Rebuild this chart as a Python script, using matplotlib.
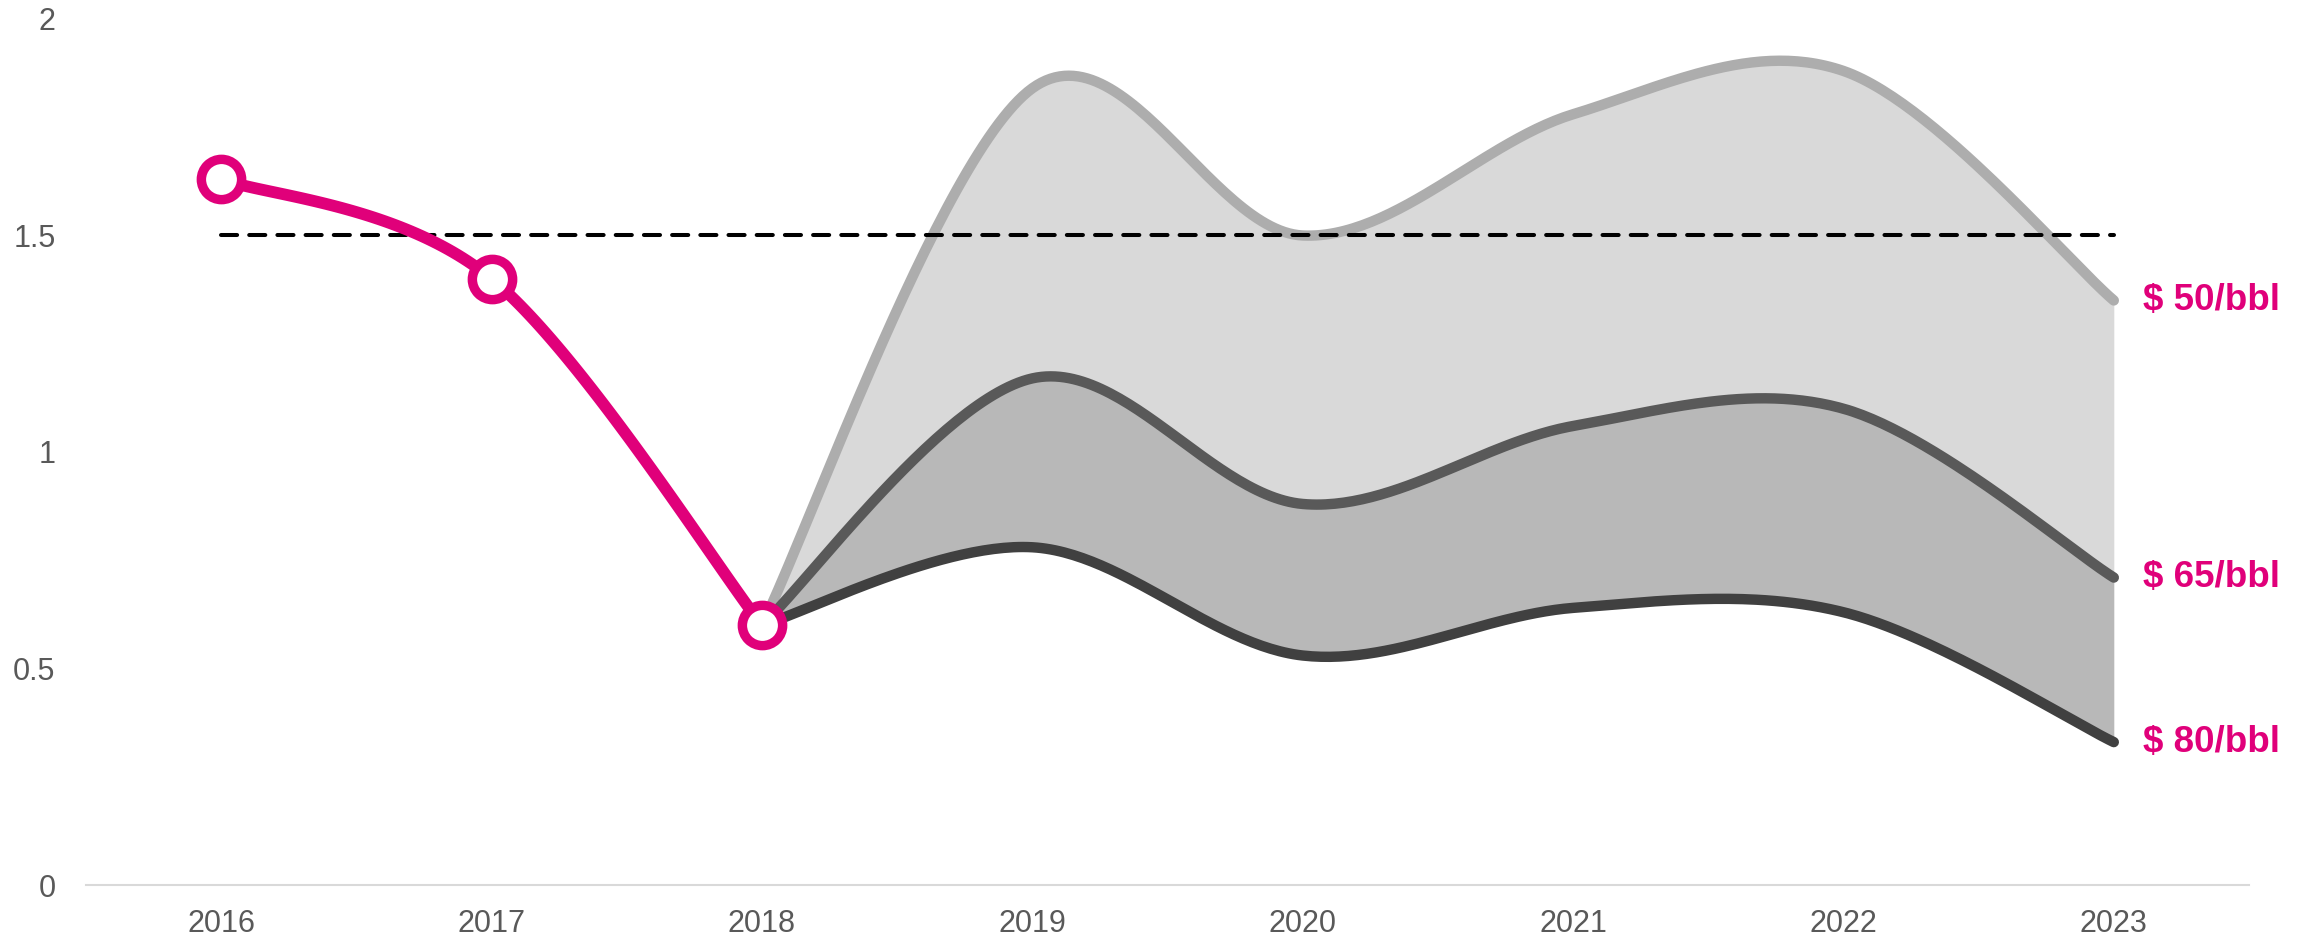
import numpy as np
import matplotlib
matplotlib.use("Agg")
import matplotlib.pyplot as plt

# ---- data ----
years = [2016, 2017, 2018, 2019, 2020, 2021, 2022, 2023]
hist_years = [2016, 2017, 2018]
hist_values = [1.63, 1.40, 0.60]
proj_years = [2018, 2019, 2020, 2021, 2022, 2023]
oil50 = [0.60, 1.84, 1.50, 1.78, 1.88, 1.35]
oil65 = [0.60, 1.17, 0.88, 1.06, 1.10, 0.71]
oil80 = [0.60, 0.78, 0.53, 0.64, 0.63, 0.33]
series_labels = ["$ 50/bbl", "$ 65/bbl", "$ 80/bbl"]
target_value = 1.5
yticks = [0, 0.5, 1, 1.5, 2]
ytick_labels = ["0", "0.5", "1", "1.5", "2"]

PINK = "#e0007a"


def smooth(x, y, n=60):
    """Excel-like smoothed line (Catmull-Rom / cubic Bezier)."""
    x = np.asarray(x, float)
    y = np.asarray(y, float)
    P = np.column_stack([x, y])
    Pext = np.vstack([P[0], P, P[-1]])
    out = []
    for i in range(len(P) - 1):
        p0, p1, p2, p3 = Pext[i], Pext[i + 1], Pext[i + 2], Pext[i + 3]
        c1 = p1 + (p2 - p0) / 6.0
        c2 = p2 - (p3 - p1) / 6.0
        t = np.linspace(0, 1, n)[:, None]
        seg = ((1 - t) ** 3) * p1 + 3 * ((1 - t) ** 2) * t * c1 + 3 * (1 - t) * t ** 2 * c2 + t ** 3 * p2
        if i > 0:
            seg = seg[1:]
        out.append(seg)
    out = np.vstack(out)
    return out[:, 0], out[:, 1]


plt.rcParams["font.family"] = ["Liberation Sans", "DejaVu Sans"]

fig = plt.figure(figsize=(23.05, 9.40), dpi=100)
ax = fig.add_axes([0.0373, 0.0585, 0.9384, 0.9213])

x50, y50 = smooth(proj_years, oil50)
x65, y65 = smooth(proj_years, oil65)
x80, y80 = smooth(proj_years, oil80)

# fills (same parameterisation -> shared x grid)
ax.fill_between(x50, y65, y50, color="#d9d9d9", lw=0, zorder=1)
ax.fill_between(x65, y80, y65, color="#b8b8b8", lw=0, zorder=1)

ax.plot(x50, y50, color="#adadad", lw=7.5, solid_capstyle="round", zorder=2)
ax.plot(x65, y65, color="#595959", lw=7.5, solid_capstyle="round", zorder=3)
ax.plot(x80, y80, color="#404040", lw=7.5, solid_capstyle="round", zorder=4)

# target dashed line
ax.plot([years[0], years[-1]], [target_value, target_value], color="black",
        lw=2.9, linestyle=(0, (4, 3)), dash_capstyle="round", zorder=5)

# historical pink line
hx, hy = smooth(hist_years, hist_values)
ax.plot(hx, hy, color=PINK, lw=8.5, solid_capstyle="round", zorder=6)
ax.plot(hist_years, hist_values, linestyle="none", marker="o", markersize=29,
        markerfacecolor="white", markeredgecolor=PINK, markeredgewidth=6.8, zorder=7)

# right-hand labels
for lab, vals in zip(series_labels, [oil50, oil65, oil80]):
    ax.annotate(lab, xy=(proj_years[-1], vals[-1]), xytext=(21, 0),
                textcoords="offset points", ha="left", va="center",
                fontsize=26.5, fontweight="bold", color=PINK)

ax.set_xlim(2015.5, 2023.5)
ax.set_ylim(0, 2)
ax.set_xticks(years)
ax.set_xticklabels([str(y) for y in years])
ax.set_yticks(yticks)
ax.set_yticklabels(ytick_labels)
ax.tick_params(axis="both", length=0, labelsize=22, labelcolor="#595959")
ax.tick_params(axis="x", pad=17)
ax.tick_params(axis="y", pad=22)

for s in ["top", "right", "left"]:
    ax.spines[s].set_visible(False)
ax.spines["bottom"].set_color("#d9d9d9")
ax.spines["bottom"].set_linewidth(1.5)
ax.patch.set_alpha(0)

fig.savefig("out.png", dpi=100)
